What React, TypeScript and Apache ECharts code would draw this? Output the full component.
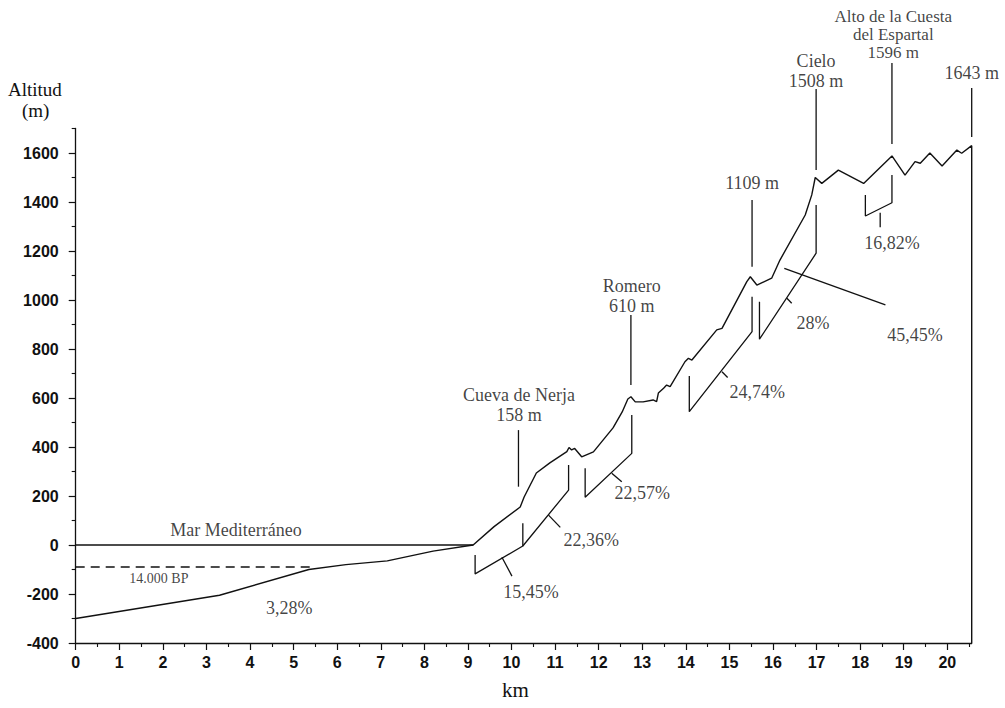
import { useEffect, useRef } from "react";
import * as echarts from "echarts";

// Altitude profile (km, m)
const profileKm = [0, 3.3, 5.35, 6.2, 7.15, 8.2, 9.12, 9.6, 10.2, 10.29, 10.57, 10.88, 11.27, 11.32, 11.38, 11.45, 11.61, 11.88, 12.33, 12.54, 12.67, 12.74, 12.84, 13.02, 13.25, 13.33, 13.37, 13.49, 13.56, 13.64, 13.98, 14.06, 14.14, 14.71, 14.83, 15.4, 15.48, 15.63, 15.97, 16.16, 16.74, 16.89, 16.97, 17.12, 17.5, 18.08, 18.73, 19.03, 19.26, 19.38, 19.6, 19.88, 20.22, 20.33, 20.56, 20.56];
const profileM = [-300, -205, -100, -80, -65, -25, 0, 75, 155, 196, 294, 335, 381, 398, 388, 394, 360, 380, 478, 543, 596, 605, 584, 584, 592, 585, 620, 640, 653, 646, 748, 762, 755, 878, 884, 1075, 1095, 1061, 1089, 1163, 1347, 1429, 1500, 1476, 1530, 1476, 1588, 1510, 1565, 1558, 1600, 1547, 1612, 1599, 1630, -400];

// Sea level today and 14.000 BP
const seaKm = [0, 9.12];
const seaM = [0, 0];
const bpKm = [0, 5.38];
const bpM = [-90, -90];

// Slope brackets [km, m]
const bracket1545 = [[9.165, -41], [9.165, -118], [10.26, -4], [10.26, 89]];
const tick1545 = [[9.78, -50], [10.01, -127]];
const bracket2236 = [[10.26, -4], [11.31, 224], [11.31, 327]];
const tick2236 = [[10.85, 122], [11.12, 72]];
const bracket2257 = [[11.69, 313], [11.69, 195], [12.76, 374], [12.76, 531]];
const tick2257 = [[12.3, 293], [12.53, 258]];
const bracket2474 = [[14.08, 690], [14.08, 544], [15.52, 871], [15.52, 1013]];
const tick2474 = [[14.83, 707], [14.96, 684]];
const bracket28 = [[15.69, 993], [15.69, 840], [16.99, 1191], [16.99, 1388]];
const tick28 = [[16.32, 1007], [16.43, 987]];
const leader4545 = [[16.26, 1129], [18.58, 980]];
const bracket1682 = [[18.12, 1429], [18.12, 1343], [18.73, 1397], [18.73, 1510]];
const tick1682 = [[18.46, 1356], [18.46, 1297]];

// Peak call-out lines
const callouts = [
  [[10.16, 469], [10.16, 238]],
  [[12.74, 939], [12.74, 653]],
  [[15.52, 1408], [15.52, 1136]],
  [[16.99, 1861], [16.99, 1531]],
  [[18.73, 1967], [18.73, 1637]],
  [[20.56, 1865], [20.56, 1665]],
];

// Text annotations
const annTexts = ["Cueva de Nerja\n158 m", "Romero\n610 m", "1109 m", "Cielo\n1508 m", "Alto de la Cuesta\ndel Espartal\n1596 m", "1643 m", "Mar Mediterráneo", "14.000 BP", "3,28%", "15,45%", "22,36%", "22,57%", "24,74%", "28%", "45,45%", "16,82%"];
const annKm = [10.17, 12.76, 15.52, 16.99, 18.76, 20.56, 3.68, 1.91, 4.9, 10.45, 11.83, 13.0, 15.64, 16.92, 19.26, 18.73];
const annM = [571, 1018, 1478, 1935, 2082, 1927, 61, -135, -257, -192, 20, 212, 626, 907, 857, 1233];

// Axis ticks
const xMajor = Array.from({ length: 21 }, (_, i) => i);
const xMinor = Array.from({ length: 21 }, (_, i) => i + 0.5);
const yMajor = [-400, -200, 0, 200, 400, 600, 800, 1000, 1200, 1400, 1600];
const yMinor = [-300, -100, 100, 300, 500, 700, 900, 1100, 1300, 1500, 1700];

const SERIF = "'Liberation Serif', 'Times New Roman', serif";
const SANS = "'Liberation Sans', Arial, sans-serif";
const INK = "#111";

function lineSeries(data: number[][], extra: any = {}) {
  return {
    type: "line",
    data,
    symbol: "none",
    showSymbol: false,
    silent: true,
    clip: false,
    animation: false,
    lineStyle: { color: INK, width: 1.3, ...(extra.lineStyle || {}) },
    z: 3,
  };
}

export default function App() {
  const ref = useRef<HTMLDivElement>(null);
  useEffect(() => {
    document.body.style.margin = "0";
    const chart = echarts.init(ref.current!, null, { renderer: "svg" });
    const profile = profileKm.map((k, i) => [k, profileM[i]]);
    const sea = seaKm.map((k, i) => [k, seaM[i]]);
    const bp = bpKm.map((k, i) => [k, bpM[i]]);
    const brackets = [bracket1545, tick1545, bracket2236, tick2236, bracket2257, tick2257, bracket2474, tick2474, bracket28, tick28, leader4545, bracket1682, tick1682];
    const series: any[] = [
      lineSeries(profile, { lineStyle: { width: 1.4 } }),
      lineSeries(sea),
      lineSeries(bp, { lineStyle: { type: [9, 6], width: 1.5 } }),
      ...brackets.map((b) => lineSeries(b)),
      ...callouts.map((c) => lineSeries(c)),
      {
        type: "scatter",
        silent: true,
        clip: false,
        symbolSize: 1,
        itemStyle: { color: "rgba(0,0,0,0)" },
        data: annTexts.map((t, i) => ({
          value: [annKm[i], annM[i]],
          label: {
            show: true,
            formatter: t,
            position: "inside",
            align: "center",
            verticalAlign: "middle",
            color: INK,
            fontFamily: SERIF,
            fontSize: t === "14.000 BP" ? 14 : i === 4 ? 17 : 18,
            lineHeight: i === 4 ? 18 : 20,
          },
        })),
      },
    ];
    chart.setOption({
      animation: false,
      backgroundColor: "#fff",
      grid: { left: 75.7, right: 33.3, top: 128.5, bottom: 65, containLabel: false, outerBoundsMode: "none" },
      xAxis: [
        {
          type: "value",
          min: 0,
          max: 20.56,
          position: "bottom",
          axisLine: { show: true, onZero: false, lineStyle: { color: INK, width: 1.3 } },
          axisTick: { show: true, length: 7, customValues: xMajor, lineStyle: { color: INK, width: 1.2 } },
          axisLabel: { show: true, customValues: xMajor, margin: 11, color: INK, fontFamily: SANS, fontWeight: "bold", fontSize: 16, formatter: (v: number) => String(v) },
          splitLine: { show: false },
        },
        {
          type: "value",
          min: 0,
          max: 20.56,
          position: "bottom",
          gridIndex: 0,
          axisLine: { show: false, onZero: false },
          axisTick: { show: true, length: 4, customValues: xMinor, lineStyle: { color: INK, width: 1.1 } },
          axisLabel: { show: false },
          splitLine: { show: false },
        },
      ],
      yAxis: [
        {
          type: "value",
          min: -400,
          max: 1700,
          position: "left",
          axisLine: { show: true, onZero: false, lineStyle: { color: INK, width: 1.3 } },
          axisTick: { show: true, length: 7, customValues: yMajor, lineStyle: { color: INK, width: 1.2 } },
          axisLabel: { show: true, customValues: yMajor, margin: 17, color: INK, fontFamily: SANS, fontWeight: "bold", fontSize: 16, formatter: (v: number) => String(v) },
          splitLine: { show: false },
        },
        {
          type: "value",
          min: -400,
          max: 1700,
          position: "left",
          gridIndex: 0,
          axisLine: { show: false, onZero: false },
          axisTick: { show: true, length: 4, customValues: yMinor, lineStyle: { color: INK, width: 1.1 } },
          axisLabel: { show: false },
          splitLine: { show: false },
        },
      ],
      graphic: [
        { type: "text", left: 8, top: 80, style: { text: "Altitud", font: `19px ${SERIF}`, fill: INK } },
        { type: "text", left: 22, top: 101, style: { text: "(m)", font: `19px ${SERIF}`, fill: INK } },
        { type: "text", left: 502, top: 679, style: { text: "km", font: `21px ${SERIF}`, fill: INK } },
      ],
      series,
    });
    return () => chart.dispose();
  }, []);
  return <div ref={ref} style={{ width: 1005, height: 708 }} />;
}
